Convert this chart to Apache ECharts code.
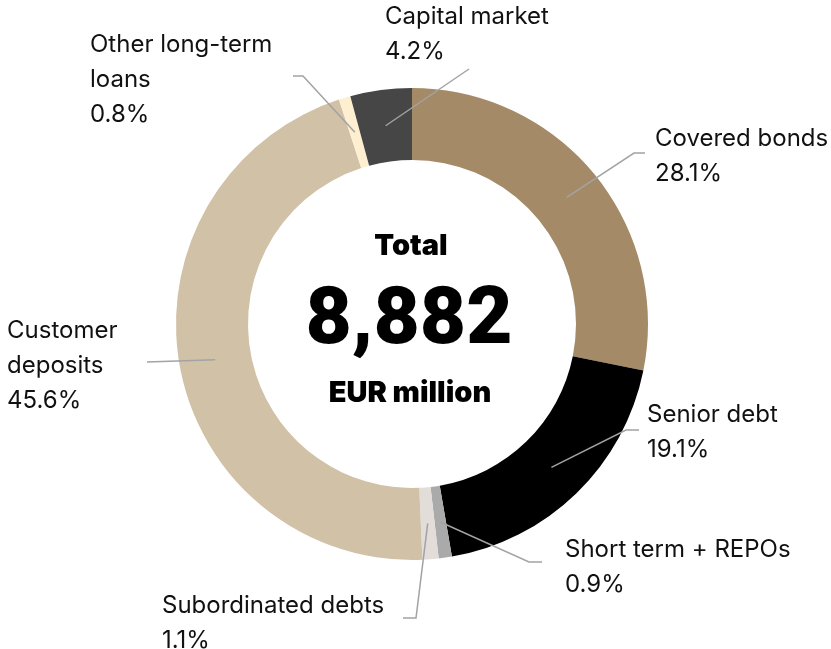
<!DOCTYPE html>
<html>
<head>
<meta charset="utf-8">
<script src="https://cdn.jsdelivr.net/npm/echarts@6/dist/echarts.min.js"></script>
<style>
  html, body { margin: 0; padding: 0; background: #fff; }
  #chart { width: 831px; height: 649px; }
</style>
</head>
<body>
<div id="chart"></div>
<script>
// funding mix, share of total in percent (clockwise from 12 o'clock)
const categories = [
  "Covered bonds",
  "Senior debt",
  "Short term + REPOs",
  "Subordinated debts",
  "Customer\ndeposits",
  "Other long-term\nloans",
  "Capital market"
]
const shares = [28.1, 19.1, 0.9, 1.1, 45.6, 0.8, 4.2]
const totalLabel = "Total"
const totalValue = "8,882"
const totalUnit = "EUR million"

const colors = ["#a58a68", "#000000", "#aaaaaa", "#e3ddd9", "#d1c1a7", "#feefd0", "#464646"]

// where each label sits (left, top) and the bend points of its leader line
const labelSpots = [
  { x: 655, y: 121, line: [[634, 153], [645, 153]] },
  { x: 647, y: 397, line: [[626, 430], [639, 430]] },
  { x: 565, y: 532, line: [[529, 562], [542, 562]] },
  { x: 162, y: 588, line: [[416, 618], [403, 618]] },
  { x: 7, y: 313, line: [[147, 362]] },
  { x: 90, y: 27, line: [[303, 76], [293, 76]] },
  { x: 385, y: -1, line: [[469, 69]] }
]

const CENTER = [412, 324]
const FONT = "Inter, 'Noto Sans', sans-serif"
const BIG_FONT = "Roboto, Inter, sans-serif"

const chart = echarts.init(document.getElementById("chart"))

const ringData = categories.map((name, i) => ({
  name: name,
  value: shares[i],
  itemStyle: { color: colors[i] }
}))

const option = {
  animation: false,
  series: [
    {
      type: "pie",
      radius: [164, 236],
      center: CENTER,
      startAngle: 90,
      clockwise: true,
      silent: true,
      avoidLabelOverlap: false,
      label: { show: false },
      labelLine: { show: false },
      data: ringData
    },
    {
      // invisible pie out to the middle of the ring, only carries labels + leader lines
      type: "pie",
      radius: [0, 200],
      center: CENTER,
      startAngle: 90,
      clockwise: true,
      silent: true,
      z: 5,
      avoidLabelOverlap: false,
      itemStyle: { color: "rgba(0,0,0,0)" },
      label: {
        show: true,
        position: "outside",
        formatter: p => p.name + "\n" + p.value.toFixed(1) + "%",
        fontFamily: FONT,
        fontSize: 24,
        lineHeight: 35,
        color: "#111"
      },
      labelLine: {
        show: true,
        length: 20,
        length2: 10,
        lineStyle: { color: "#a3a3a3", width: 1.5 }
      },
      labelLayout: params => {
        const spot = labelSpots[params.dataIndex]
        const anchor = params.labelLinePoints ? params.labelLinePoints[0] : spot.line[0]
        return {
          x: spot.x,
          y: spot.y,
          align: "left",
          verticalAlign: "top",
          labelLinePoints: [anchor].concat(spot.line)
        }
      },
      data: categories.map((name, i) => ({ name: name, value: shares[i] }))
    }
  ],
  graphic: [
    {
      type: "text",
      x: CENTER[0] - 1, y: 246,
      style: { text: totalLabel, font: "900 29px " + FONT, fill: "#000", align: "center", verticalAlign: "middle" }
    },
    {
      type: "text",
      x: CENTER[0] - 3, y: 323,
      style: { text: totalValue, font: "900 80px " + BIG_FONT, fill: "#000", align: "center", verticalAlign: "middle" }
    },
    {
      type: "text",
      x: CENTER[0] - 2, y: 393,
      style: { text: totalUnit, font: "900 29px " + FONT, fill: "#000", align: "center", verticalAlign: "middle" }
    }
  ]
}

chart.setOption(option)
</script>
</body>
</html>
